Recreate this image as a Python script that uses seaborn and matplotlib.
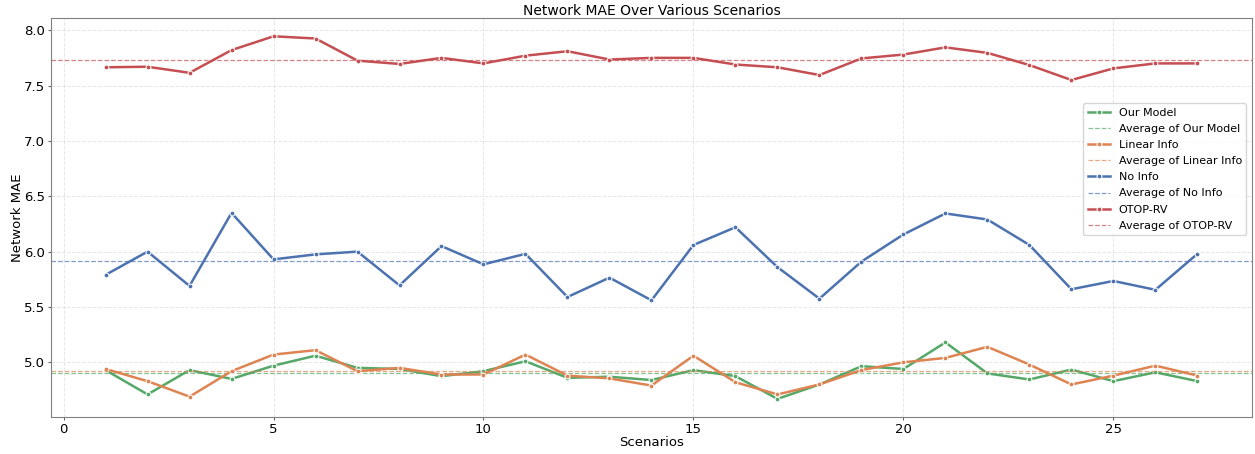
import seaborn as sns
import matplotlib.pyplot as plt
import pandas as pd
import numpy as np

# Data
scenarios = list(range(1, 28))

our_model = [4.93, 4.71, 4.93, 4.85, 4.97, 5.06, 4.95, 4.94, 4.875, 4.92,
             5.01, 4.86, 4.87, 4.84, 4.93, 4.875, 4.67, 4.80, 4.965, 4.94,
             5.18, 4.90, 4.845, 4.935, 4.83, 4.91, 4.83]
linear_info = [4.94, 4.83, 4.69, 4.92, 5.07, 5.11, 4.92, 4.95, 4.89, 4.89,
               5.07, 4.88, 4.855, 4.79, 5.06, 4.82, 4.71, 4.80, 4.93, 5.00,
               5.04, 5.14, 4.98, 4.80, 4.88, 4.97, 4.88]
no_info = [5.79, 6.00, 5.69, 6.35, 5.93, 5.975, 6.00, 5.695, 6.05, 5.885,
           5.98, 5.59, 5.765, 5.56, 6.06, 6.22, 5.86, 5.575, 5.91, 6.155,
           6.345, 6.29, 6.06, 5.66, 5.735, 5.655, 5.98]
otop_rv = [7.665, 7.67, 7.615, 7.82, 7.945, 7.925, 7.725, 7.695, 7.75, 7.70,
           7.77, 7.81, 7.735, 7.75, 7.75, 7.69, 7.665, 7.595, 7.745, 7.78,
           7.845, 7.795, 7.685, 7.55, 7.655, 7.70, 7.70]

series_names = ["Our Model", "Linear Info", "No Info", "OTOP-RV"]
series_values = [our_model, linear_info, no_info, otop_rv]

palette = sns.color_palette("deep")
colors = {
    "Our Model": palette[2],
    "Linear Info": palette[1],
    "No Info": palette[0],
    "OTOP-RV": palette[3],
}

fig, ax = plt.subplots(figsize=(12.55, 4.54), dpi=100)
fig.subplots_adjust(left=0.0406, right=0.9976, top=0.960, bottom=0.0815)

for name, vals in zip(series_names, series_values):
    df = pd.DataFrame({"Scenario": scenarios, "MAE": vals})
    sns.lineplot(data=df, x="Scenario", y="MAE", ax=ax, color=colors[name],
                 marker="o", markersize=3.5, linewidth=1.8, label=name)
    ax.axhline(np.mean(vals), color=colors[name], linestyle="--",
               linewidth=0.9, alpha=0.7, label=f"Average of {name}")

ax.set_title("Network MAE Over Various Scenarios", fontsize=10, pad=2)
ax.set_xlabel("Scenarios", fontsize=9.5, labelpad=0)
ax.set_ylabel("Network MAE", fontsize=9.5, labelpad=0)
ax.grid(True, linestyle="--", linewidth=0.7, alpha=0.3)

for spine in ax.spines.values():
    spine.set_color("0.5")
ax.tick_params(colors="0.4", labelcolor="black", labelsize=9.5, length=2.5, pad=2)

ax.legend(loc="upper right", bbox_to_anchor=(1.0, 0.80), fontsize=8, labelspacing=0.55)

fig.savefig("out.png", dpi=100)
